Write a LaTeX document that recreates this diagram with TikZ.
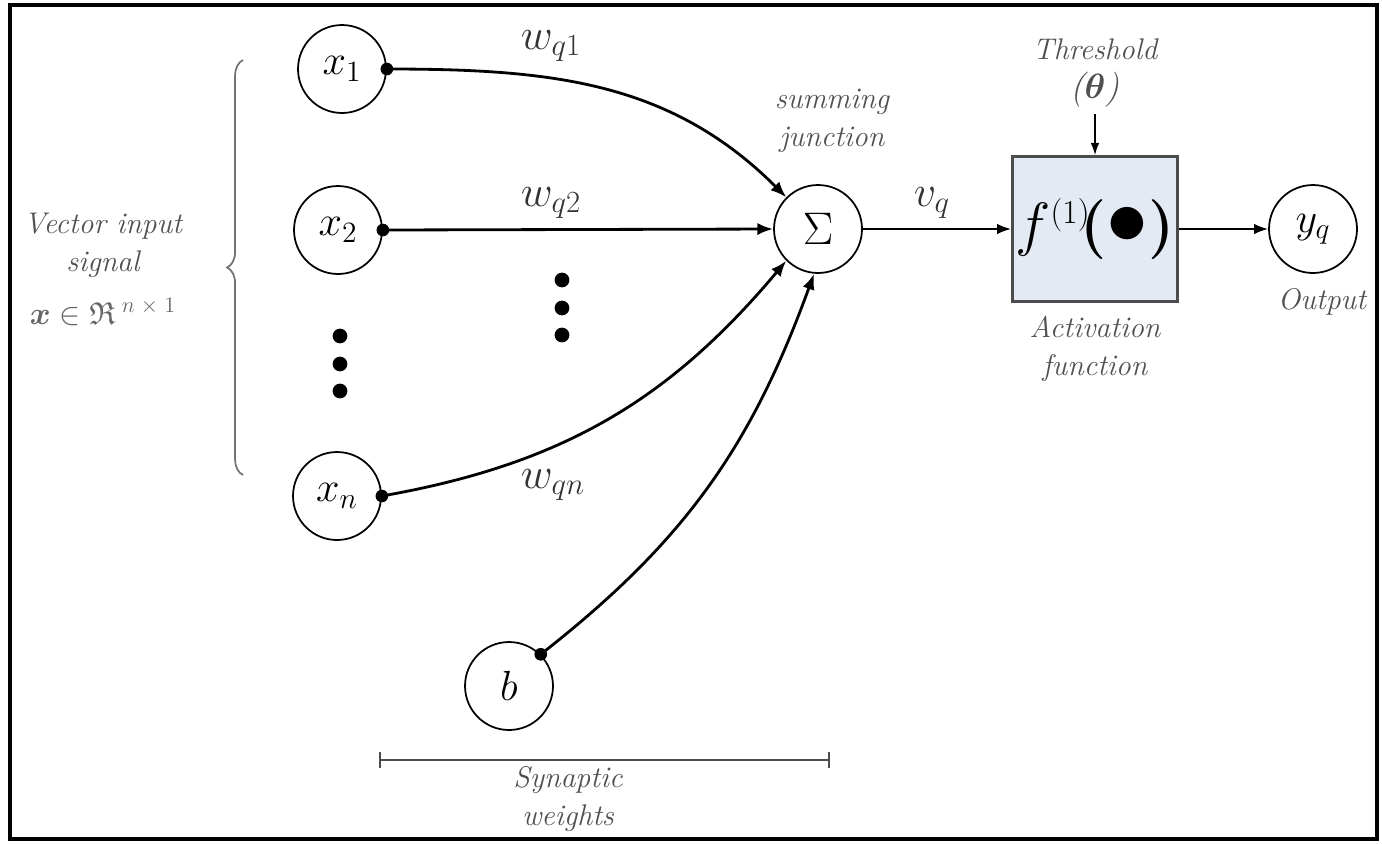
\RequirePackage{fix-cm}
\documentclass[tikz,border=0pt]{standalone}
\usepackage{amsmath,amssymb}
\usepackage{tikz}
\usetikzlibrary{arrows.meta, positioning, decorations.pathreplacing}
\definecolor{labelgrey}{HTML}{505050}
\definecolor{boxfill}{HTML}{E4EAF4}
\tikzstyle{neuron} = [circle, draw=black, line width=1pt, minimum size=1.76cm, inner sep=0pt, font=\fontsize{24}{28}\selectfont]
\tikzstyle{actbox} = [rectangle, draw=black!70, line width=1.6pt, fill=boxfill, minimum width=3.3cm, minimum height=2.9cm, inner sep=0pt]
\tikzstyle{label} = [align=center, text=labelgrey, font=\fontsize{17}{21.5}\selectfont\itshape]
\tikzstyle{mlabel} = [text=black!80, font=\fontsize{25}{30}\selectfont]
\tikzstyle{arrow} = [line width=1.6pt, -{Latex[length=9pt,width=7pt]}]
\tikzstyle{thinarrow} = [line width=1.1pt, -{Latex[length=8pt,width=6pt]}]
\tikzstyle{dot} = [fill=black]
\newcommand{\supone}{\text{\fontsize{19}{19}\selectfont(1)}}

\begin{document}
\begin{tikzpicture}[x=0.02cm, y=0.02cm]
\useasboundingbox (0,0) rectangle (1382,-843);
\draw [line width=2.4pt] (10,-5) rectangle (1377,-839);

% Nodes
\node (x1) [neuron] at (342,-69) {$x_1$};
\node (x2) [neuron] at (338,-230) {$x_2$};
\node (xn) [neuron] at (337,-496) {$x_n$};
\node (b) [neuron] at (509,-686) {$b$};
\node (sum) [neuron, font=\fontsize{26}{30}\selectfont] at (818,-229) {$\Sigma$};
\node (act) [actbox] at (1095,-229)
{\fontsize{34}{38}\selectfont$f^{\supone}\!\boldsymbol{(}\text{\scalebox{1.4}{$\bullet$}}\boldsymbol{)}$};
\node (yq) [neuron] at (1313,-229) {$y_q$};

% Labels
\node (wq1) [mlabel] at (551,-46) {$w_{q1}$};
\node (wq2) [mlabel] at (551,-203) {$w_{q2}$};
\node (wqn) [mlabel] at (553,-485) {$w_{qn}$};
\node (vq) [mlabel] at (932,-203) {$v_q$};
\node (sumlbl) [label] at (832,-121) {summing\\junction};
\node (thresh) [label] at (1095,-73)
{Threshold\\[1pt]\fontsize{20}{22}\selectfont\textit{(}$\boldsymbol{\theta}$\textit{)}};
\node (actlbl) [label, below=4pt of act] {Activation\\function};
\node (outlbl) [label] at (1322,-302) {Output};
\node (inlbl) [label] at (103,-245) {Vector input\\signal};
\node (inset) [text=black!60, font=\fontsize{18}{22}\selectfont] at (103,-312)
{$\boldsymbol{x}\in\mathfrak{R}^{\;n\;\times\;1}$};
\node (swlbl) [label] at (568,-799) {Synaptic\\weights};

% Dots
\foreach \y in {280,308,335} \fill (562,-\y) circle [radius=4.2pt];
\foreach \y in {336,364,391} \fill (340,-\y) circle [radius=4.2pt];

% Brace
\draw [labelgrey!80, line width=1pt, decorate, decoration={brace, amplitude=9pt}]
(243,-475) -- (243,-60);

% Synaptic weights bar
\coordinate (sw1) at (379,-760);
\coordinate (sw2) at (830,-760);
\draw [black!70, line width=1.3pt, {Bar[width=9pt]}-{Bar[width=9pt]}] (sw1) -- (sw2);

% Arrows
\draw [arrow] (x1.east) to[out=0, in=135] (sum.135);
\draw [arrow] (x2.east) -- (sum.west);
\draw [arrow] (xn.east) to[out=10, in=-130] (sum.-135);
\draw [arrow] (b.45) to[out=38, in=-110] (sum.-95);
\draw [thinarrow] (sum) -- (act);
\draw [thinarrow] (act) -- (yq);
\draw [line width=0.8pt, -{Latex[length=7pt,width=5pt]}] (thresh.south) -- (act.north);

\fill [dot] (x1.east) circle [radius=3.6pt];
\fill [dot] (x2.east) circle [radius=3.6pt];
\fill [dot] (xn.east) circle [radius=3.6pt];
\fill [dot] (b.45) circle [radius=3.6pt];

\end{tikzpicture}
\end{document}
